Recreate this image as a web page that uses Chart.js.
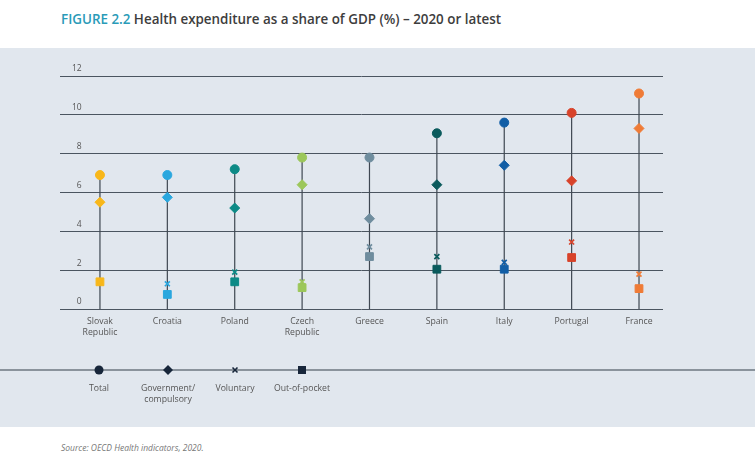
<!DOCTYPE html>
<html>
<head>
<meta charset="utf-8">
<script src="https://cdn.jsdelivr.net/npm/chart.js"></script>
<style>
    body { margin: 0; background: #fff; font-family: "Open Sans", sans-serif; }
    #title { position: absolute; left: 61px; top: 10px; font-size: 13.4px; font-weight: 600; color: #3d3d3d; line-height: 18px; white-space: nowrap; }
    #title span { color: #2a9bb8; }
    #panel { position: absolute; left: 0; top: 48px; width: 755px; height: 379px; background: #e1e7ee; }
    #source { position: absolute; left: 61px; top: 442px; font-size: 8.5px; font-style: italic; color: #777; }
</style>
</head>
<body>
<div id="title"><span>FIGURE 2.2</span> Health expenditure as a share of GDP (%) – 2020 or latest</div>
<div id="panel"><canvas id="myChart" width="755" height="379"></canvas></div>
<div id="source">Source: OECD Health indicators, 2020.</div>
<script>
const countries = [['Slovak', 'Republic'], 'Croatia', 'Poland', ['Czech', 'Republic'], 'Greece', 'Spain', 'Italy', 'Portugal', 'France'];
const total = [6.9, 6.9, 7.2, 7.8, 7.8, 9.05, 9.6, 10.1, 11.1];
const government = [5.5, 5.75, 5.2, 6.4, 4.65, 6.4, 7.4, 6.6, 9.3];
const voluntary = [null, 1.3, 1.9, 1.4, 3.2, 2.7, 2.4, 3.45, 1.8];
const outOfPocket = [1.4, 0.75, 1.4, 1.1, 2.7, 2.05, 2.05, 2.65, 1.05];
const yTicks = [0, 2, 4, 6, 8, 10, 12];
const seriesNames = ['Total', ['Government/', 'compulsory'], 'Voluntary', 'Out-of-pocket'];

const countryColors = ['#f8b719', '#2aa7de', '#0c8a86', '#9cc75a', '#6f8d9e', '#0a5a5c', '#115ea6', '#d8432a', '#ef7b36'];

function points(values) {
    return values.map((v, i) => ({x: i, y: v}));
}

// stems from 0 up to the total, broken between countries by a null point
function stemPoints() {
    const out = [];
    total.forEach((t, i) => {
        out.push({x: i, y: 0}, {x: i, y: t}, {x: i, y: null});
    });
    return out;
}

function markerSet(label, values, style, radius) {
    return {
        type: 'scatter',
        label: label,
        data: points(values),
        pointStyle: style,
        pointRadius: radius,
        pointHoverRadius: radius,
        pointBackgroundColor: countryColors,
        pointBorderColor: countryColors,
        pointBorderWidth: style === 'crossRot' ? 1.7 : 1,
        order: 0
    };
}

// legend: line across the panel with the four marker shapes
const legendPlugin = {
    id: 'legendRow',
    afterDraw(chart) {
        const ctx = chart.ctx;
        const y = 322;
        const xs = [99, 168, 235, 302];
        ctx.save();
        ctx.strokeStyle = '#8a939c';
        ctx.lineWidth = 2;
        ctx.beginPath();
        ctx.moveTo(0, y);
        ctx.lineTo(755, y);
        ctx.stroke();

        ctx.fillStyle = '#17263a';
        ctx.strokeStyle = '#17263a';
        // total
        ctx.beginPath();
        ctx.arc(xs[0], y, 4.5, 0, Math.PI * 2);
        ctx.fill();
        // government
        ctx.beginPath();
        ctx.moveTo(xs[1], y - 5);
        ctx.lineTo(xs[1] + 5, y);
        ctx.lineTo(xs[1], y + 5);
        ctx.lineTo(xs[1] - 5, y);
        ctx.closePath();
        ctx.fill();
        // voluntary
        ctx.lineWidth = 1.6;
        ctx.beginPath();
        ctx.moveTo(xs[2] - 2.5, y - 2.5);
        ctx.lineTo(xs[2] + 2.5, y + 2.5);
        ctx.moveTo(xs[2] + 2.5, y - 2.5);
        ctx.lineTo(xs[2] - 2.5, y + 2.5);
        ctx.stroke();
        // out of pocket
        ctx.fillRect(xs[3] - 4, y - 4, 8, 8);

        ctx.fillStyle = '#555';
        ctx.font = '8.7px "Open Sans"';
        ctx.textAlign = 'center';
        ctx.textBaseline = 'middle';
        seriesNames.forEach((name, i) => {
            const lines = Array.isArray(name) ? name : [name];
            lines.forEach((line, j) => ctx.fillText(line, xs[i], 341 + j * 11));
        });
        ctx.restore();
    }
};

const ctx = document.getElementById('myChart').getContext('2d');
const chart = new Chart(ctx, {
    data: {
        datasets: [
            {
                type: 'line',
                label: 'stem',
                data: stemPoints(),
                borderColor: '#3f4852',
                borderWidth: 1.2,
                pointRadius: 0,
                spanGaps: false,
                order: 10
            },
            markerSet('Total', total, 'circle', 4.5),
            markerSet('Government/compulsory', government, 'rectRot', 5),
            markerSet('Voluntary', voluntary, 'crossRot', 3.5),
            markerSet('Out-of-pocket', outOfPocket, 'rect', 5.5)
        ]
    },
    options: {
        responsive: false,
        animation: false,
        layout: { padding: { left: 60, right: 92, top: 28, bottom: 68 } },
        plugins: { legend: { display: false }, tooltip: { enabled: false } },
        scales: {
            x: {
                type: 'linear',
                offset: false,
                min: -0.593,
                max: 8.356,
                grid: { display: false },
                border: { display: false },
                afterFit: s => { s.height = 50; },
                afterBuildTicks: s => { s.ticks = countries.map((c, i) => ({value: i})); },
                ticks: {
                    padding: -1,
                    color: '#555',
                    font: { family: 'Open Sans', size: 8.7, lineHeight: 1.3 },
                    maxRotation: 0,
                    autoSkip: false,
                    callback: v => countries[v]
                }
            },
            y: {
                min: 0,
                max: 12,
                afterFit: s => { s.width = 0; },
                afterBuildTicks: s => { s.ticks = yTicks.map(v => ({value: v})); },
                grid: { color: '#4b5560', lineWidth: 1, drawTicks: false },
                border: { display: false },
                ticks: {
                    mirror: true,
                    padding: 12,
                    labelOffset: -7,
                    color: '#555',
                    font: { family: 'Open Sans', size: 8.5 },
                    callback: v => (v < 10 ? '\u2007' : '') + v
                }
            }
        }
    },
    plugins: [legendPlugin]
});
</script>
</body>
</html>
